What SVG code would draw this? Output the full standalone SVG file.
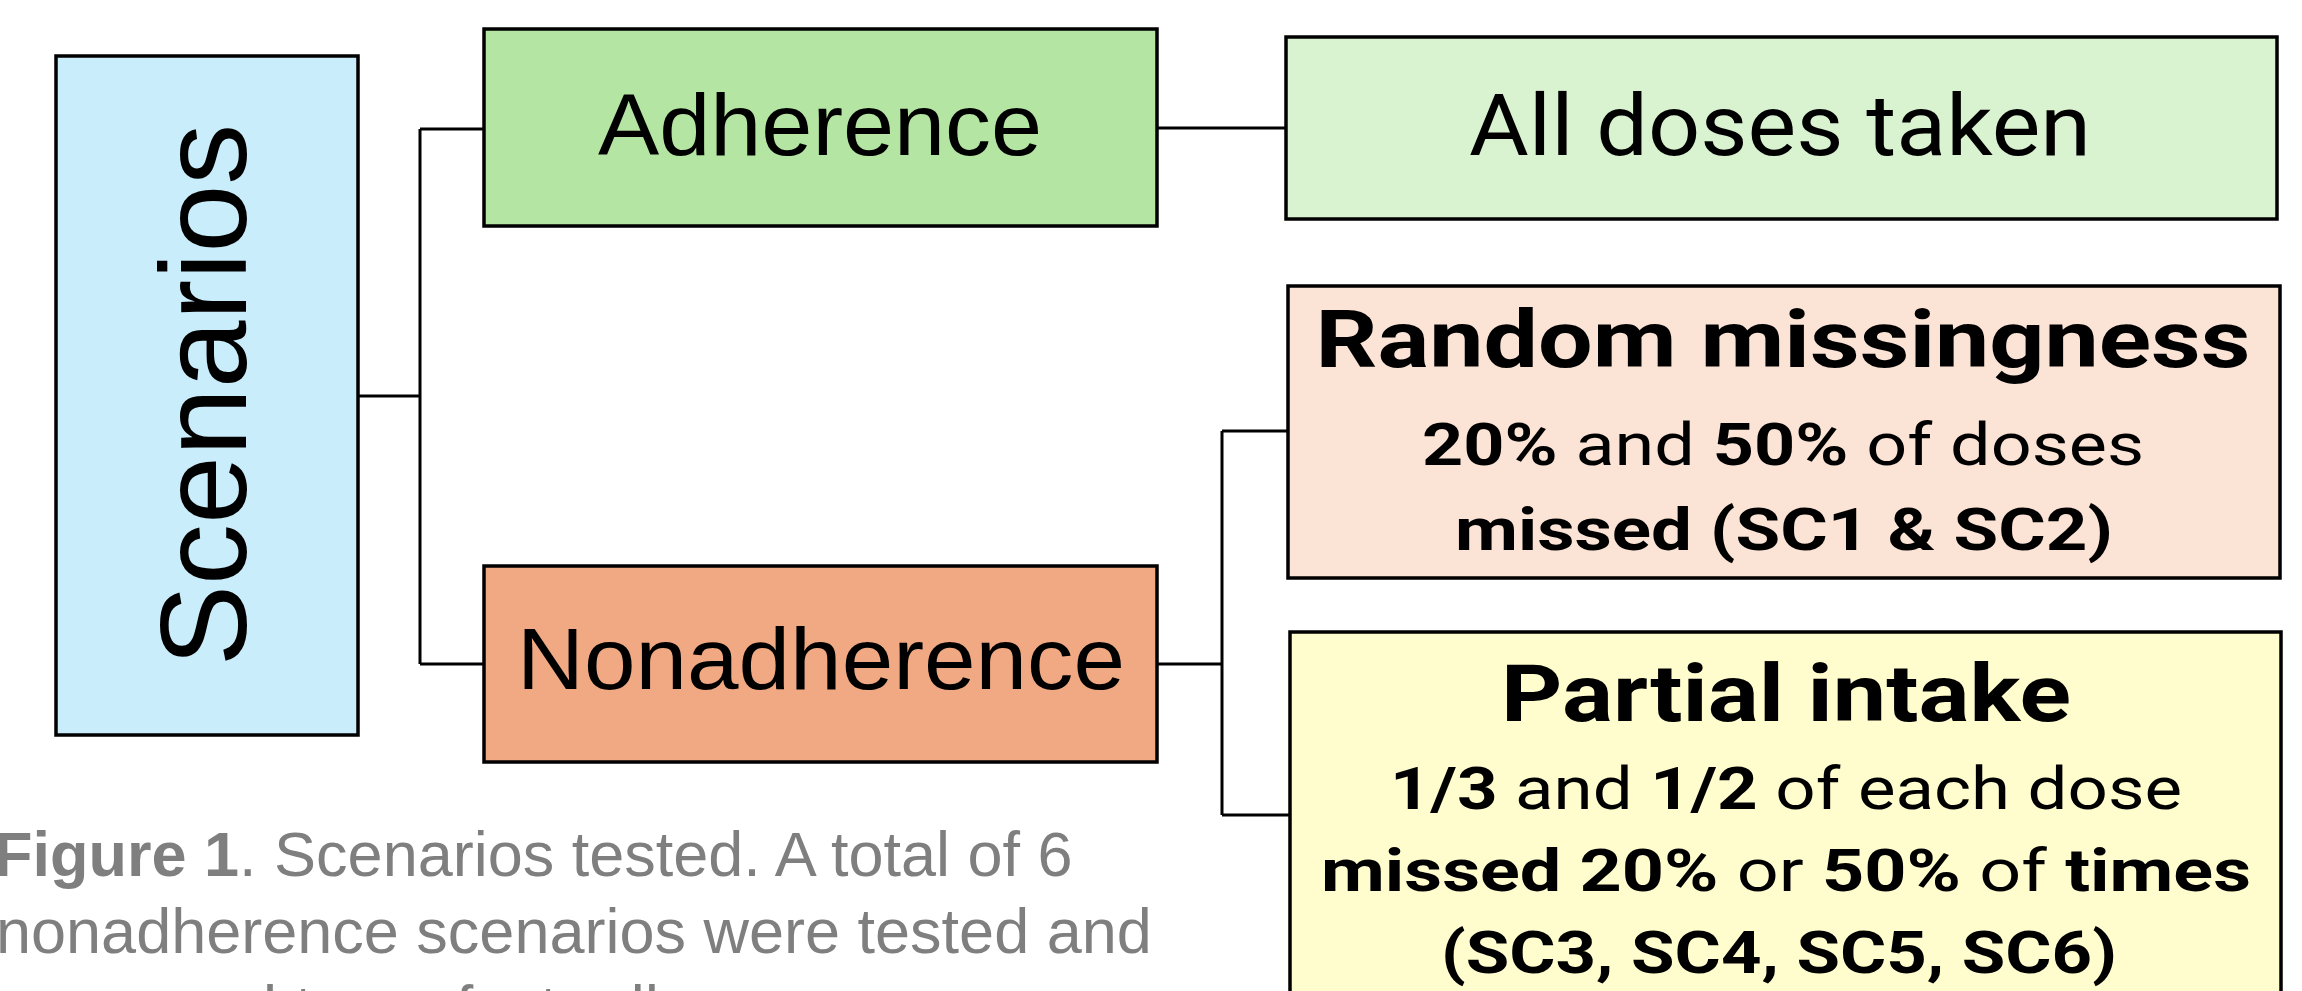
<svg xmlns="http://www.w3.org/2000/svg" width="2302" height="991" viewBox="0 0 2302 991">
  <style>
    .box { stroke: #000; stroke-width: 3.5; }
    .link { fill: none; stroke: #000; stroke-width: 3; }
    .arial { font-family: "Liberation Sans", Arial, sans-serif; fill: #000; }
    .apt { font-family: Roboto, "Liberation Sans", sans-serif; fill: #000; text-anchor: middle; }
    .b { font-weight: bold; }
    .cap { font-family: "Liberation Sans", Arial, sans-serif; font-size: 63px; fill: #7f7f7f; }
  </style>
  <rect width="2302" height="991" fill="#ffffff"/>

  <!-- tree connectors -->
  <g id="connectors">
    <path class="link" d="M358 396 H420 M420 129 V664 M420 129 H484 M420 664 H484"/>
    <path class="link" d="M1157 128 H1286"/>
    <path class="link" d="M1157 664 H1222 M1222 431 V815 M1222 431 H1288 M1222 815 H1290"/>
  </g>

  <g id="scenarios">
    <rect class="box" x="56" y="56" width="302" height="679" fill="#caedfb"/>
    <text class="arial" font-size="122" text-anchor="middle" transform="translate(246,395) rotate(-90)">Scenarios</text>
  </g>

  <g id="adherence">
    <rect class="box" x="484" y="29" width="673" height="197" fill="#b4e5a2"/>
    <text class="arial" font-size="88" x="820" y="155" text-anchor="middle" textLength="444" lengthAdjust="spacingAndGlyphs">Adherence</text>
  </g>

  <g id="nonadherence">
    <rect class="box" x="484" y="566" width="673" height="196" fill="#f1a983"/>
    <text class="arial" font-size="88" x="821" y="689" text-anchor="middle" textLength="608" lengthAdjust="spacingAndGlyphs">Nonadherence</text>
  </g>

  <g id="all-doses">
    <rect class="box" x="1286" y="37" width="991" height="182" fill="#d9f2d0"/>
    <text class="apt" font-size="86" x="1780" y="155" textLength="622" lengthAdjust="spacingAndGlyphs">All doses taken</text>
  </g>

  <g id="random-missingness">
    <rect class="box" x="1288" y="286" width="992" height="292" fill="#fbe3d6"/>
    <text class="apt b" font-size="80" x="1783" y="367" textLength="935" lengthAdjust="spacingAndGlyphs">Random missingness</text>
    <text class="apt" font-size="60" x="1783" y="465" textLength="722" lengthAdjust="spacingAndGlyphs"><tspan class="b">20%</tspan> and <tspan class="b">50%</tspan> of doses</text>
    <text class="apt b" font-size="60" x="1784" y="550" textLength="658" lengthAdjust="spacingAndGlyphs">missed (SC1 &amp; SC2)</text>
  </g>

  <g id="partial-intake">
    <rect class="box" x="1290" y="632" width="991" height="400" fill="#fffdcd"/>
    <text class="apt b" font-size="80" x="1786" y="721" textLength="570" lengthAdjust="spacingAndGlyphs">Partial intake</text>
    <text class="apt" font-size="60" x="1786" y="809" textLength="792" lengthAdjust="spacingAndGlyphs"><tspan class="b">1/3</tspan> and <tspan class="b">1/2</tspan> of each dose</text>
    <text class="apt" font-size="60" x="1786" y="891" textLength="930" lengthAdjust="spacingAndGlyphs"><tspan class="b">missed 20%</tspan> or <tspan class="b">50%</tspan> of <tspan class="b">times</tspan></text>
    <text class="apt b" font-size="60" x="1779" y="973" textLength="676" lengthAdjust="spacingAndGlyphs">(SC3, SC4, SC5, SC6)</text>
  </g>

  <!-- figure caption -->
  <g id="caption">
    <text class="cap" x="-6" y="876"><tspan font-weight="bold">Figure 1</tspan>. Scenarios tested. A total of 6</text>
    <text class="cap" x="-4" y="953">nonadherence scenarios were tested and</text>
    <text class="cap" x="-3" y="1030">compared to perfect adherence</text>
  </g>
</svg>
